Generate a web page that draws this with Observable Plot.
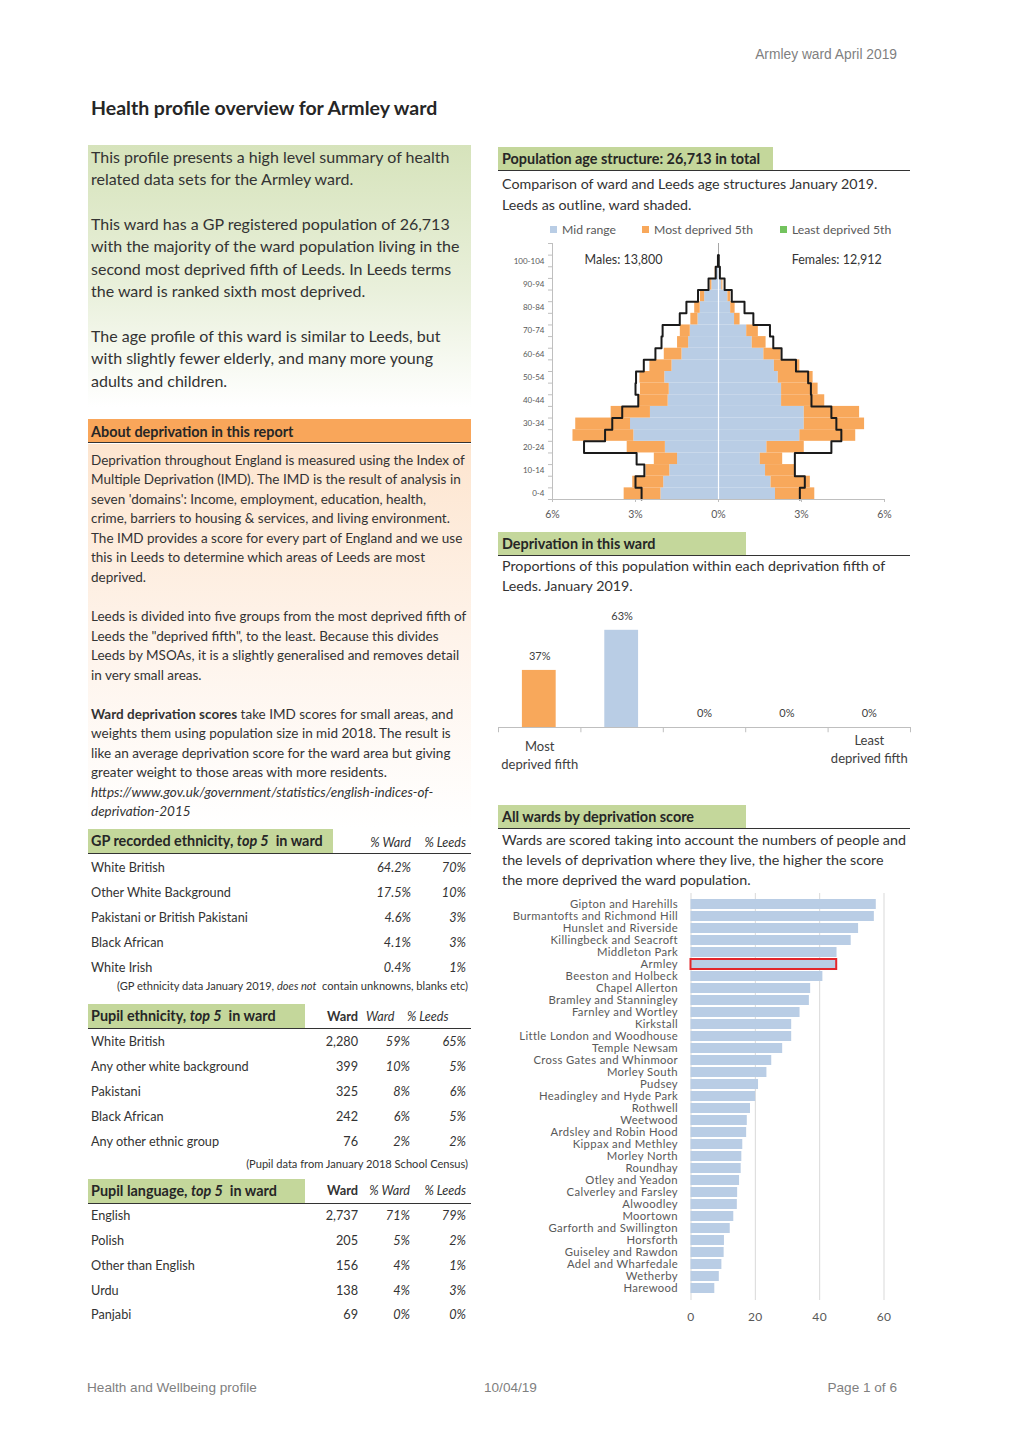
<!DOCTYPE html>
<html><head><meta charset="utf-8">
<script src="https://cdn.jsdelivr.net/npm/d3@7"></script>
<script src="https://cdn.jsdelivr.net/npm/@observablehq/plot@0.6"></script>
<style>
body{margin:0;background:#fff;}
#page{position:relative;width:1020px;height:1442px;font-family:Lato,"Open Sans",sans-serif;color:#333;overflow:hidden;}
.a{position:absolute;white-space:nowrap;}
.hdr{position:absolute;background:#c4d79b;}
.line{position:absolute;height:0;border-top:1.6px solid #333;}
svg{position:absolute;overflow:visible;}
</style></head><body><div id="page"></div>
<script>
// ---------- DATA ----------
const ageBands = ["0-4","5-9","10-14","15-19","20-24","25-29","30-34","35-39","40-44","45-49","50-54","55-59","60-64","65-69","70-74","75-79","80-84","85-89","90-94","95-99","100-104"];
// ward shares (% of ward population), split by deprivation fifth
const maleMid   = [2.08,1.98,1.76,1.48,1.92,3.06,3.18,2.46,1.82,1.78,1.94,1.68,1.32,1.08,1.02,0.74,0.66,0.50,0.24,0.10,0.02];
const maleMost  = [1.33,1.12,0.86,0.84,1.38,2.20,1.98,1.42,1.06,1.04,0.90,0.80,0.64,0.40,0.36,0.26,0.20,0.15,0.06,0.02,0.00];
const femaleMid = [2.06,1.90,1.70,1.51,1.75,2.94,3.10,3.10,2.28,2.28,2.16,2.02,1.64,1.22,1.02,0.58,0.44,0.34,0.12,0.04,0.01];
const femaleMost= [1.42,1.42,1.06,0.81,1.35,2.02,2.18,2.00,1.56,1.32,1.26,0.92,0.62,0.50,0.42,0.20,0.16,0.10,0.04,0.01,0.00];
// Leeds outline (% of Leeds population)
const leedsMale   = [2.78,3.00,2.68,2.96,4.86,4.10,3.84,3.48,2.90,3.00,2.98,2.70,2.28,2.06,2.02,1.40,1.16,0.74,0.36,0.10,0.02];
const leedsFemale = [2.94,3.12,2.76,2.76,4.08,4.44,4.26,4.08,3.36,3.34,3.24,2.80,2.28,1.98,1.86,1.26,0.94,0.48,0.22,0.05,0.01];
const malesTotal = "Males: 13,800";
const femalesTotal = "Females: 12,912";

const fifths = ["Most deprived","Second","Third","Fourth","Least deprived"];
const fifthShare = [37,63,0,0,0];
const fifthLabels = ["Most\ndeprived fifth","","","","Least\ndeprived fifth"];

const wards = ["Gipton and Harehills","Burmantofts and Richmond Hill","Hunslet and Riverside","Killingbeck and Seacroft","Middleton Park","Armley","Beeston and Holbeck","Chapel Allerton","Bramley and Stanningley","Farnley and Wortley","Kirkstall","Little London and Woodhouse","Temple Newsam","Cross Gates and Whinmoor","Morley South","Pudsey","Headingley and Hyde Park","Rothwell","Weetwood","Ardsley and Robin Hood","Kippax and Methley","Morley North","Roundhay","Otley and Yeadon","Calverley and Farsley","Alwoodley","Moortown","Garforth and Swillington","Horsforth","Guiseley and Rawdon","Adel and Wharfedale","Wetherby","Harewood"];
const wardScores = [57.6,57.0,52.1,49.8,45.4,45.3,41.0,37.2,36.8,33.9,31.3,31.3,28.5,25.1,23.6,21.0,20.1,18.5,17.5,17.3,16.1,15.8,15.6,15.1,14.5,14.4,13.3,12.2,10.4,10.3,9.6,8.8,7.4];
const thisWard = "Armley";

const gpEthnicity = ["White British","Other White Background","Pakistani or British Pakistani","Black African","White Irish"];
const gpWardPct = ["64.2%","17.5%","4.6%","4.1%","0.4%"];
const gpLeedsPct = ["70%","10%","3%","3%","1%"];

const pupilEthnicity = ["White British","Any other white background","Pakistani","Black African","Any other ethnic group"];
const pupilEthCount = ["2,280","399","325","242","76"];
const pupilEthWardPct = ["59%","10%","8%","6%","2%"];
const pupilEthLeedsPct = ["65%","5%","6%","5%","2%"];

const pupilLanguage = ["English","Polish","Other than English","Urdu","Panjabi"];
const pupilLangCount = ["2,737","205","156","138","69"];
const pupilLangWardPct = ["71%","5%","4%","4%","0%"];
const pupilLangLeedsPct = ["79%","2%","1%","3%","0%"];

const introLines = ["This profile presents a high level summary of health","related data sets for the Armley ward.","","This ward has a GP registered population of 26,713","with the majority of the ward population living in the","second most deprived fifth of Leeds. In Leeds terms","the ward is ranked sixth most deprived.","","The age profile of this ward is similar to Leeds, but","with slightly fewer elderly, and many more young","adults and children."];
const depLines = ["Deprivation throughout England is measured using the Index of","Multiple Deprivation (IMD). The IMD is the result of analysis in","seven 'domains': Income, employment, education, health,","crime, barriers to housing &amp; services, and living environment.","The IMD provides a score for every part of England and we use","this in Leeds to determine which areas of Leeds are most","deprived.","","Leeds is divided into five groups from the most deprived fifth of","Leeds the \"deprived fifth\", to the least. Because this divides","Leeds by MSOAs, it is a slightly generalised and removes detail","in very small areas.","","<b>Ward deprivation scores</b> take IMD scores for small areas, and","weights them using population size in mid 2018. The result is","like an average deprivation score for the ward area but giving","greater weight to those areas with more residents.","<i>https://www.gov.uk/government/statistics/english-indices-of-</i>","<i>deprivation-2015</i>"];

// ---------- COLOURS ----------
const blue = "#b9cde5", orange = "#f8a85b", green = "#73c35e", gray = "#595959";

// ---------- PAGE ----------
const page = document.getElementById("page");
function el(html, css){const d=document.createElement("div");d.className="a";d.innerHTML=html;d.style.cssText+=css;page.appendChild(d);return d;}
function txt(html, x, y, size, extra="", anchor="left"){
  const lh = size*1.4;
  if(anchor==="right") return el(html, `right:${1020-x}px;top:${y-lh/2}px;font-size:${size}px;line-height:${lh}px;${extra}`);
  return el(html, `left:${x}px;top:${y-lh/2}px;font-size:${size}px;line-height:${lh}px;${extra}`);
}
function box(x,y,w,h,bg){const d=document.createElement("div");d.className="hdr";d.style.cssText=`left:${x}px;top:${y}px;width:${w}px;height:${h}px;background:${bg};`;page.appendChild(d);}
function hline(x,y,w){const d=document.createElement("div");d.className="line";d.style.cssText=`left:${x}px;top:${y}px;width:${w}px;`;page.appendChild(d);}
function lines(arr,x,y0,lh,size,extra=""){arr.forEach((s,i)=>{ if(s) txt(s,x,y0+i*lh,size,extra);});}
const footFont = "font-family:'Liberation Sans Narrow','Liberation Sans',sans-serif;color:#7f7f7f;";

// header & footer
txt("Armley ward April 2019",897,55,13.8,footFont,"right");
txt("<b>Health profile overview for Armley ward</b>",91,108,19.5,"color:#262626;");
txt("Health and Wellbeing profile",87,1388,13.6,footFont);
txt("10/04/19",484,1388,13.6,footFont);
txt("Page 1 of 6",897,1388,13.6,footFont,"right");

// intro box
box(88,145,383,262,"linear-gradient(#d6e3bb 0%, #e9f0db 55%, #ffffff 100%)");
lines(introLines,91,157,22.4,16);

// deprivation box
box(88,419,383,24,"#f9a65a");
hline(88,442,383);
txt("<b>About deprivation in this report</b>",91,432,14.4,"color:#262626;");
box(88,444,383,384,"linear-gradient(#fde5cf 0%, #fef3ea 50%, #ffffff 100%)");
lines(depLines,91,460,19.55,13.5);

// tables
function tableHeader(title,y,w){
  box(88,y,w,24,"#c4d79b");
  hline(88,y+23.5,383);
  txt(`<b>${title}</b>`,91,y+12,14.4,"color:#262626;");
}
tableHeader("GP recorded ethnicity, <i>top 5</i>&nbsp; in ward",829,245);
txt("<i>% Ward</i>",411,843,12.6,"","right");
txt("<i>% Leeds</i>",466,843,12.6,"","right");
gpEthnicity.forEach((n,i)=>{const y=868+i*24.9;txt(n,91,y,12.7);txt(`<i>${gpWardPct[i]}</i>`,411,y,12.7,"","right");txt(`<i>${gpLeedsPct[i]}</i>`,466,y,12.7,"","right");});
txt("(GP ethnicity data January 2019, <i>does not</i>&nbsp; contain unknowns, blanks etc)",468,986,11.1,"","right");

tableHeader("Pupil ethnicity, <i>top 5</i>&nbsp; in ward",1004,217);
txt("<b>Ward</b>",358,1017,12.8,"","right");
txt("<i>Ward</i>",366,1017,12.6);
txt("<i>% Leeds</i>",407,1017,12.6);
pupilEthnicity.forEach((n,i)=>{const y=1042+i*25;txt(n,91,y,12.7);txt(pupilEthCount[i],358,y,12.7,"","right");txt(`<i>${pupilEthWardPct[i]}</i>`,410,y,12.7,"","right");txt(`<i>${pupilEthLeedsPct[i]}</i>`,466,y,12.7,"","right");});
txt("(Pupil data from January 2018 School Census)",468,1164,11.1,"","right");

tableHeader("Pupil language, <i>top 5</i>&nbsp; in ward",1179,217);
txt("<b>Ward</b>",358,1191,12.8,"","right");
txt("<i>% Ward</i>",410,1191,12.6,"","right");
txt("<i>% Leeds</i>",466,1191,12.6,"","right");
pupilLanguage.forEach((n,i)=>{const y=1216+i*24.8;txt(n,91,y,12.7);txt(pupilLangCount[i],358,y,12.7,"","right");txt(`<i>${pupilLangWardPct[i]}</i>`,410,y,12.7,"","right");txt(`<i>${pupilLangLeedsPct[i]}</i>`,466,y,12.7,"","right");});

// right column headers
box(498,147,275,23,"#c4d79b"); hline(498,169.5,412);
txt("<b>Population age structure: 26,713 in total</b>",502,159,14.4,"color:#262626;");
lines(["Comparison of ward and Leeds age structures January 2019.","Leeds as outline, ward shaded."],502,184,21,14.25);
// legend
[[550,blue,"Mid range"],[642,orange,"Most deprived 5th"],[780,green,"Least deprived 5th"]].forEach(([x,c,l])=>{
  el("",`left:${x}px;top:226px;width:7px;height:7px;background:${c};`);
  txt(l,x+12,230,12.2,`color:${gray};`);
});

box(498,532,248,23,"#c4d79b"); hline(498,554.5,412);
txt("<b>Deprivation in this ward</b>",502,544,14.4,"color:#262626;");
lines(["Proportions of this population within each deprivation fifth of","Leeds. January 2019."],502,566,20,14.25);

box(498,805,248,23,"#c4d79b"); hline(498,827.5,412);
txt("<b>All wards by deprivation score</b>",502,817,14.4,"color:#262626;");
lines(["Wards are scored taking into account the numbers of people and","the levels of deprivation where they live, the higher the score","the more deprived the ward population."],502,840,20,14.3);

function place(svg,x,y){svg.style.left=x+"px";svg.style.top=y+"px";page.appendChild(svg);}

// ---------- PYRAMID ----------
const pyr = [];
ageBands.forEach((b,i)=>{
  pyr.push({i, x1:0, x2:-maleMid[i], c:"mid"});
  pyr.push({i, x1:-maleMid[i], x2:-(maleMid[i]+maleMost[i]), c:"most"});
  pyr.push({i, x1:0, x2:femaleMid[i], c:"mid"});
  pyr.push({i, x1:femaleMid[i], x2:femaleMid[i]+femaleMost[i], c:"most"});
});
const leftLine = [], rightLine = [];
ageBands.forEach((b,i)=>{
  leftLine.push({x:-leedsMale[i],y:i},{x:-leedsMale[i],y:i+1});
  rightLine.push({x:leedsFemale[i],y:i},{x:leedsFemale[i],y:i+1});
});
leftLine.push({x:0,y:21}); rightLine.push({x:0,y:21});
const centers = ageBands.map((b,i)=>i+0.5).filter((d,i)=>i%2===0);
const pyramid = Plot.plot({
  width:412, height:290, marginLeft:54, marginRight:26, marginTop:3, marginBottom:31,
  style:{fontFamily:"Lato, sans-serif", color:gray, background:"transparent"},
  x:{domain:[-6,6], label:null},
  y:{domain:[0,22], label:null},
  marks:[
    Plot.rect(pyr,{x1:"x1",x2:"x2",y1:d=>d.i,y2:d=>d.i+1,fill:d=>d.c==="mid"?blue:orange}),
    Plot.ruleX([0],{y1:0,y2:21,stroke:"white",strokeWidth:1.2}),
    Plot.ruleX([0],{y1:20,y2:22,stroke:"#a6a6a6",strokeWidth:1}),
    Plot.line(leftLine,{x:"x",y:"y",stroke:"#1a1a1a",strokeWidth:2,curve:"linear"}),
    Plot.line(rightLine,{x:"x",y:"y",stroke:"#1a1a1a",strokeWidth:2,curve:"linear"}),
    Plot.ruleX([-6],{stroke:"#bfbfbf"}),
    Plot.ruleY([0],{stroke:"#bfbfbf"}),
    Plot.axisY(d3.range(0,23),{tickSize:4,tickFormat:()=>"",stroke:"#bfbfbf"}),
    Plot.axisY(centers,{tickSize:0,tickPadding:8,fontSize:8,tickFormat:d=>ageBands[Math.floor(d)]}),
    Plot.axisX([-6,-3,0,3,6],{tickSize:3,tickPadding:8,fontSize:10.5,stroke:"#bfbfbf",tickFormat:d=>Math.abs(d)+"%"}),
    Plot.text([malesTotal],{x:-4.84,y:20.6,text:d=>d,textAnchor:"start",fontSize:12.5,fill:"#333"}),
    Plot.text([femalesTotal],{x:5.9,y:20.6,text:d=>d,textAnchor:"end",fontSize:12.5,fill:"#333"})
  ]
});
place(pyramid,498,240);

// ---------- DEPRIVATION FIFTHS ----------
const fifthData = fifths.map((f,i)=>({i,f,v:fifthShare[i],label:fifthLabels[i]}));
const fifthChart = Plot.plot({
  width:412, height:175, marginLeft:0, marginRight:0, marginTop:19, marginBottom:48,
  style:{fontFamily:"Lato, sans-serif", color:"#404040", background:"transparent"},
  x:{domain:[0,5], axis:null},
  y:{domain:[0,70], axis:null},
  marks:[
    Plot.rectY(fifthData,{x1:d=>d.i+0.29,x2:d=>d.i+0.70,y1:0,y2:"v",fill:d=>d.i===0?orange:blue}),
    Plot.ruleY([0],{stroke:"#bfbfbf"}),
    Plot.ruleX(d3.range(0,6),{y1:0,y2:-3.4,stroke:"#bfbfbf"}),
    Plot.text(fifthData,{x:d=>d.i+0.5,y:"v",text:d=>d.v+"%",dy:-14,fontSize:11}),
    Plot.text(fifthData.filter(d=>d.i===0),{x:d=>d.i+0.5,y:0,text:"label",dy:27,fontSize:13,lineHeight:1.4}),
    Plot.text(fifthData.filter(d=>d.i===4),{x:d=>d.i+0.5,y:0,text:"label",dy:21,fontSize:13,lineHeight:1.4})
  ]
});
place(fifthChart,498,600);

// ---------- ALL WARDS ----------
const wardData = wards.map((w,i)=>({ward:w,score:wardScores[i]}));
const wardChart = Plot.plot({
  width:412, height:437, marginLeft:192.5, marginRight:26.5, marginTop:0, marginBottom:30,
  style:{fontFamily:"Lato, sans-serif", color:gray, background:"transparent", letterSpacing:"0.35px"},
  x:{domain:[0,60], label:null},
  y:{domain:wards, label:null, padding:0.14},
  marks:[
    Plot.ruleX([0,20,40,60],{stroke:"#d9d9d9"}),
    Plot.barX(wardData,{y:"ward",x:"score",fill:blue}),
    Plot.barX(wardData.filter(d=>d.ward===thisWard),{y:"ward",x:"score",fill:"none",stroke:"#e3262b",strokeWidth:2}),
    Plot.axisY({tickSize:0,tickPadding:13,fontSize:11.3}),
    Plot.axisX([0,20,40,60],{tickSize:0,tickPadding:12,fontSize:12})
  ]
});
place(wardChart,498,893);
</script></body></html>
